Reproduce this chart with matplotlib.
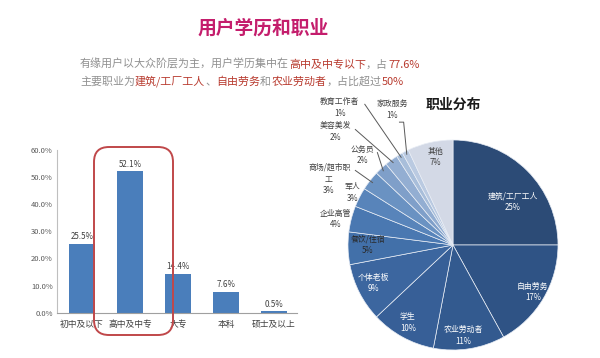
import matplotlib
matplotlib.use("Agg")
import matplotlib.pyplot as plt
from matplotlib.patches import FancyBboxPatch
import numpy as np

plt.rcParams['font.family'] = ['Noto Sans CJK SC', 'DejaVu Sans']

# ---------------- data ----------------
edu_labels = ["初中及以下", "高中及中专", "大专", "本科", "硕士及以上"]
edu_values = [25.5, 52.1, 14.4, 7.6, 0.5]
y_ticks = [0, 10, 20, 30, 40, 50, 60]

job_labels = ["建筑/工厂工人", "自由劳务", "农业劳动者", "学生", "个体老板", "餐饮/住宿",
              "企业高管", "军人", "商场/超市职工", "公务员", "美容美发", "教育工作者",
              "家政服务", "其他"]
job_values = [25, 17, 11, 10, 9, 5, 4, 3, 3, 2, 2, 1, 1, 7]
job_colors = ["#2C4B76", "#2F5385", "#335A8F", "#375F97", "#3C669F", "#4270A9",
              "#4A78B1", "#5884BA", "#6A92C2", "#7F9FC9", "#93AED2", "#A8BEDA",
              "#BACAE1", "#D3D9E6"]

title = "用户学历和职业"
sub1 = [("有缘用户以大众阶层为主，用户学历集中在", "g"), ("高中及中专以下", "r"),
        ("，占", "g"), ("77.6%", "r")]
sub2 = [("主要职业为", "g"), ("建筑/工厂工人", "r"), ("、", "g"), ("自由劳务", "r"),
        ("和", "g"), ("农业劳动者", "r"), ("，占比超过", "g"), ("50%", "r")]

fig = plt.figure(figsize=(6, 3.58), dpi=100)
fig.patch.set_facecolor("white")

# overlay axes for figure-level text
ov = fig.add_axes([0, 0, 1, 1])
ov.axis("off")
ov.set_xlim(0, 1)
ov.set_ylim(0, 1)

# ---------------- titles ----------------
ov.text(263 / 600, 1 - 28 / 358, title, ha="center", va="center", fontsize=13.5,
        fontweight="bold", color="#C41D6C")

gray = "#909090"
red = "#B83A2E"


def rich_line(parts, x, y, size=7.9):
    prev = None
    for txt, c in parts:
        col = red if c == "r" else gray
        if prev is None:
            prev = ov.text(x, y, txt, ha="left", va="baseline", fontsize=size, color=col)
        else:
            prev = ov.annotate(txt, xy=(1, 0), xycoords=prev, ha="left", va="bottom",
                               fontsize=size, color=col, annotation_clip=False)


rich_line(sub1, 80 / 600, 1 - 68 / 358)
rich_line(sub2, 80 / 600, 1 - 85 / 358)

# ---------------- bar chart ----------------
ax = fig.add_axes([57 / 600, (358 - 312.7) / 358, 240 / 600, 162.7 / 358])
x = np.arange(len(edu_labels))
bars = ax.bar(x, edu_values, width=0.56, color="#4A7EBB", zorder=2)
ax.set_xlim(-0.52, 4.48)
ax.set_ylim(0, 60)
ax.set_yticks(y_ticks)
ax.set_yticklabels([f"{v:.1f}%" for v in y_ticks], fontsize=5.5, color="#595959")
ax.set_xticks(x)
ax.set_xticklabels(edu_labels, fontsize=6.3, color="#404040")
ax.tick_params(length=0, pad=3)
ax.tick_params(axis="x", pad=5)
for s in ["top", "right"]:
    ax.spines[s].set_visible(False)
ax.spines["left"].set_color("#BFBFBF")
ax.spines["left"].set_linewidth(0.8)
ax.spines["bottom"].set_color("#A0A0A0")
ax.spines["bottom"].set_linewidth(0.8)
for b, v in zip(bars, edu_values):
    ax.annotate(f"{v}%", (b.get_x() + b.get_width() / 2, v), xytext=(0, 2),
                textcoords="offset points", ha="center", va="bottom", fontsize=5.8,
                color="#404040")

# red rounded highlight box (inches)
box = FancyBboxPatch((0.94, 0.23), 0.79, 1.88, boxstyle="round,pad=0,rounding_size=0.15",
                     transform=fig.dpi_scale_trans, fill=False, edgecolor="#C0484A",
                     linewidth=1.4, zorder=5)
fig.patches.append(box)

# ---------------- pie chart ----------------
R = 105
cx, cy = 453, 245
pax = fig.add_axes([(cx - R) / 600, (358 - cy - R) / 358, 2 * R / 600, 2 * R / 358])
wedges, _ = pax.pie(job_values, colors=job_colors, startangle=90, counterclock=False,
                    radius=1, wedgeprops=dict(edgecolor="#E8EDF5", linewidth=0.5))
pax.set_xlim(-1, 1)
pax.set_ylim(-1, 1)
pax.set_aspect("equal")
pax.axis("off")

ov.text(cx / 600, 1 - 105 / 358, "职业分布", ha="center", va="center", fontsize=10,
        fontweight="bold", color="#1A1A1A")

# label positions (text placement in pie data units)
label_pos = [(0.57, 0.41), (0.76, -0.45), (0.10, -0.86), (-0.43, -0.74), (-0.76, -0.36),
             (-0.81, 0.0), (-1.12, 0.25), (-0.96, 0.50), (-1.19, 0.57), (-0.86, 0.86),
             (-1.12, 1.08), (-1.08, 1.31), (-0.58, 1.29), (-0.17, 0.84)]
label_col = ["white"] * 5 + ["#2A2A2A", "#404040", "#404040", "#404040", "#404040",
                             "#404040", "#404040", "#404040", "#404040"]
leaders = {8: (-0.93, 0.71), 9: (-0.72, 0.88), 10: (-0.93, 1.10), 11: (-0.84, 1.34),
           12: (-0.47, 1.17)}
fs = 5.7

for i, (lab, val) in enumerate(zip(job_labels, job_values)):
    px, py = label_pos[i]
    if i == 8:
        # wrapped label: first part on its own line above
        pax.text(-1.17, 0.74, lab[:-1], ha="center", va="center", fontsize=fs,
                 color=label_col[i], clip_on=False)
        txt = f"{lab[-1]}\n{val}%"
    else:
        txt = f"{lab}\n{val}%"
    pax.text(px, py, txt, ha="center", va="center", fontsize=fs,
             color=label_col[i], linespacing=1.35, clip_on=False)
    if i in leaders:
        w = wedges[i]
        mid = np.deg2rad((w.theta1 + w.theta2) / 2)
        ex, ey = 0.97 * np.cos(mid), 0.97 * np.sin(mid)
        sx, sy = leaders[i]
        if i == 12:
            pax.plot([sx - 0.04, sx, ex], [sy, sy, ey], color="#595959", lw=0.7,
                     clip_on=False)
        else:
            pax.plot([sx, ex], [sy, ey], color="#595959", lw=0.7, clip_on=False)

fig.savefig("out.png", dpi=100, facecolor="white")
